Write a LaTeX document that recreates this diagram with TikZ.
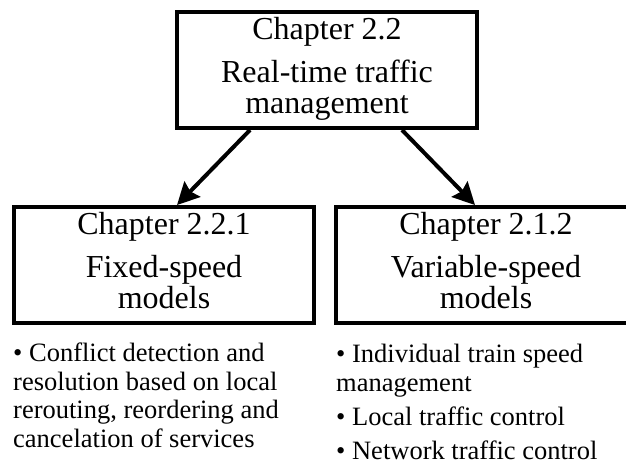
\documentclass[tikz,border=0pt]{standalone}
\usepackage{fontspec}
\setmainfont{Liberation Serif}
\usetikzlibrary{positioning,arrows.meta}

\begin{document}
\begin{tikzpicture}[x=1pt,y=-1pt]
        \tikzstyle{every node}=[inner sep=0pt]
        \tikzstyle{chapbox}=[draw, line width=4pt, minimum width=300pt, minimum height=116pt, align=center, font=\fontsize{32}{31}\selectfont]
        \tikzstyle{bullets}=[align=left, font=\fontsize{26.5}{28.5}\selectfont]
        \tikzstyle{link}=[line width=4pt, -{Stealth[length=22pt, width=22pt, inset=3pt]}]

        \path[use as bounding box, clip] (0,0) rectangle (626,464);

        \node (rtm)   [chapbox] at (327,70)  {\strut Chapter 2.2\\[10pt]Real-time traffic\\management\strut};
        \node (fixed) [chapbox] at (164,265) {\strut Chapter 2.2.1\\[10pt]Fixed-speed\\models\strut};
        \node (var)   [chapbox] at (486,265) {\strut Chapter 2.1.2\\[10pt]Variable-speed\\models\strut};

        \node (fixedlist) [bullets, below right=18pt and 1pt of fixed.south west] {\textbullet{} Conflict detection and\\resolution based on local\\rerouting, reordering and\\cancelation of services};
        \node (varlist)   [bullets, below right=19pt and 2pt of var.south west] {\textbullet{} Individual train speed\\management\\[5.5pt]\textbullet{} Local traffic control\\[5.5pt]\textbullet{} Network traffic control};

        \draw[link] ([xshift=-77pt]rtm.south) -- ([xshift=13pt]fixed.north);
        \draw[link] ([xshift=75pt]rtm.south) -- ([xshift=-11pt]var.north);
    \end{tikzpicture}
\end{document}
